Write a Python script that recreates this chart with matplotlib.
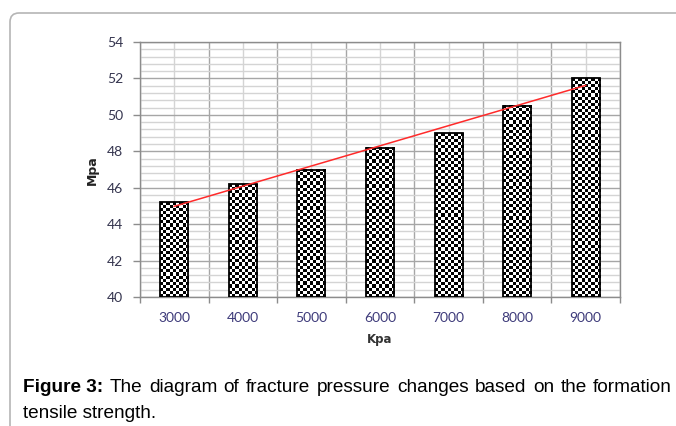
import numpy as np
import matplotlib
matplotlib.use("Agg")
import matplotlib.pyplot as plt
from matplotlib.patches import FancyBboxPatch
from matplotlib.transforms import IdentityTransform

# tensile strength (Kpa) vs fracture pressure (Mpa)
categories = ["3000", "4000", "5000", "6000", "7000", "8000", "9000"]
pressure = [45.2, 46.2, 47.0, 48.2, 49.0, 50.5, 52.0]
y_ticks = [40, 42, 44, 46, 48, 50, 52, 54]

W, H = 676, 426
fig = plt.figure(figsize=(W / 100, H / 100), dpi=100)
fig.patch.set_facecolor("white")

# page frame with rounded corner
frame = FancyBboxPatch((10, -30), 720, H - 13 + 30,
                       boxstyle="round,pad=0,rounding_size=9",
                       transform=IdentityTransform(), facecolor="none",
                       edgecolor="#b5b5b5", linewidth=1.2)
fig.add_artist(frame)

ax = fig.add_axes([140 / W, 129 / H, 480 / W, 255 / H])
x = np.arange(len(categories))
bar_w = 0.41

# grid
ax.set_yticks(y_ticks)
ax.set_yticks(np.arange(40, 54.01, 0.4), minor=True)
ax.set_xticks(np.arange(-0.5, len(categories), 1.0))
ax.set_xticks(x, minor=True)
ax.set_xticklabels([])
ax.set_xticklabels(categories, minor=True)
ax.grid(which="major", color="#a6a6a6", linewidth=1.0, zorder=0)
ax.grid(which="minor", color="#d4d4d4", linewidth=1.0, zorder=0)
ax.set_axisbelow(True)

ax.tick_params(axis="y", which="major", length=5, width=1, color="#8c8c8c",
               pad=7, labelsize=10, labelcolor="#35354f")
ax.tick_params(axis="y", which="minor", length=0)
ax.tick_params(axis="x", which="major", length=4, width=1, color="#8c8c8c")
ax.tick_params(axis="x", which="minor", length=0, pad=11, labelsize=10,
               labelcolor="#3d3a7a")
for lbl in ax.get_yticklabels() + ax.get_xticklabels(minor=True):
    lbl.set_fontfamily("Lato")
for s in ax.spines.values():
    s.set_color("#8c8c8c")
    s.set_linewidth(1.0)

# checkered bars
px_x = 480 / len(categories)
px_y = 255 / 14.0
sq = 3.1
for xi, v in zip(x, pressure):
    h = v - 40
    nx = max(1, int(round(bar_w * px_x / sq)))
    ny = max(1, int(round(h * px_y / sq)))
    board = (np.add.outer(np.arange(ny), np.arange(nx)) % 2).astype(float)
    ax.imshow(board, cmap="gray", vmin=0, vmax=1, interpolation="nearest",
              extent=(xi - bar_w / 2, xi + bar_w / 2, 40, v),
              aspect="auto", zorder=2)
ax.bar(x, [v - 40 for v in pressure], bottom=40, width=bar_w,
       facecolor="none", edgecolor="black", linewidth=1.3, zorder=3)

# linear trend line
k, b = np.polyfit(x, pressure, 1)
ax.plot([x[0], x[-1]], [k * x[0] + b, k * x[-1] + b], color="#ff2a2a",
        linewidth=1.1, zorder=4)

ax.set_xlim(-0.5, len(categories) - 0.5)
ax.set_ylim(40, 54)

fig.text(92 / W, 1 - 170 / H, "Mpa", rotation=90, fontsize=9, fontweight="bold",
         ha="center", va="center", color="#222222")
fig.text(380 / W, 1 - 340 / H, "Kpa", fontsize=8.5, fontweight="bold",
         ha="center", va="center", color="#333333")

# caption, first line justified between x=23 and x=672
cap = "Liberation Sans"
fs = 13.7
renderer = fig.canvas.get_renderer()
head = fig.text(23 / W, 1 - 392 / H, "Figure 3:", fontsize=fs, fontweight="bold",
                family=cap, ha="left", va="baseline")
words = "The diagram of fracture pressure changes based on the formation".split()
word_txt = [fig.text(0, 1 - 392 / H, w, fontsize=fs, family=cap,
                     ha="left", va="baseline") for w in words]
widths = [t.get_window_extent(renderer).width for t in word_txt]
start = head.get_window_extent(renderer).x1
right = 672
gap = (right - start - sum(widths)) / len(words)
pos = start + gap
for t, wd in zip(word_txt, widths):
    t.set_x(pos / W)
    pos += wd + gap
fig.text(23 / W, 1 - 418 / H, "tensile strength.", fontsize=fs, family=cap,
         ha="left", va="baseline")

fig.savefig("out.png", dpi=100)
